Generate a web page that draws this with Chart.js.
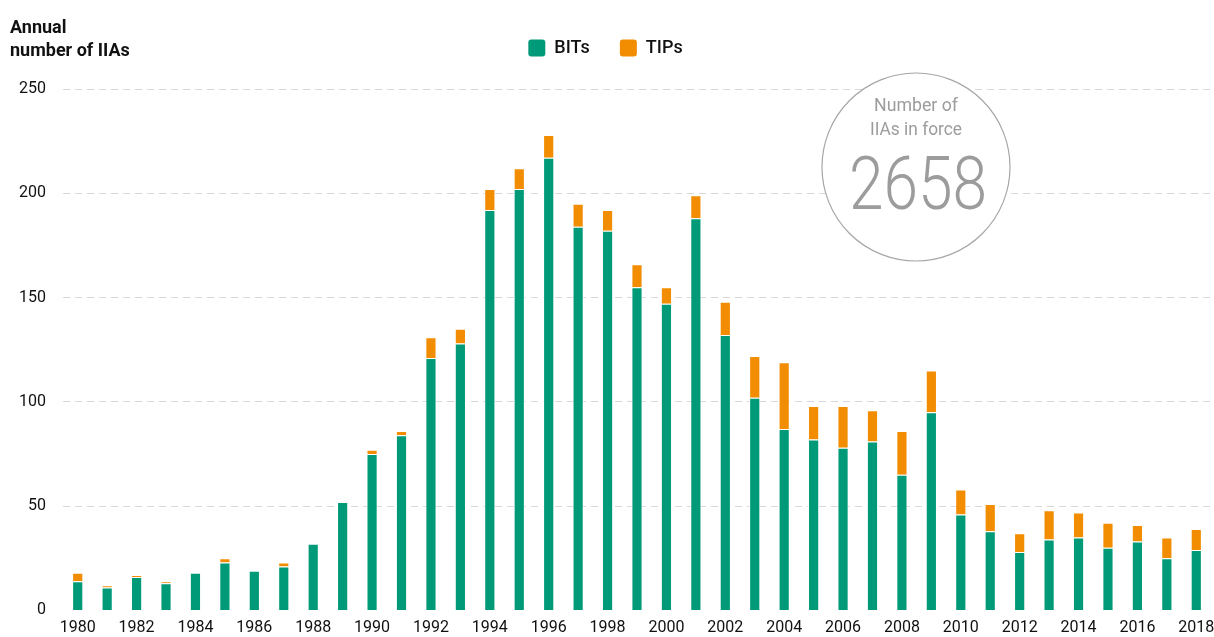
<!DOCTYPE html>
<html>
<head>
<meta charset="utf-8">
<script src="https://cdn.jsdelivr.net/npm/chart.js@4.4.1/dist/chart.umd.min.js"></script>
<style>
  html, body { margin: 0; padding: 0; background: #fff; }
  #wrap { position: relative; width: 1214px; height: 637px; }
</style>
</head>
<body>
<div id="wrap"><canvas id="iiaChart" width="1214" height="637"></canvas></div>
<script>
const years = ['1980','1981','1982','1983','1984','1985','1986','1987','1988','1989',
    '1990','1991','1992','1993','1994','1995','1996','1997','1998','1999',
    '2000','2001','2002','2003','2004','2005','2006','2007','2008','2009',
    '2010','2011','2012','2013','2014','2015','2016','2017','2018'];
const bits = [14, 11, 16, 13, 18, 23, 19, 21, 32, 52,
    75, 84, 121, 128, 192, 202, 217, 184, 182, 155,
    147, 188, 132, 102, 87, 82, 78, 81, 65, 95,
    46, 38, 28, 34, 35, 30, 33, 25, 29];
const tips = [4, 1, 1, 1, 0, 2, 0, 2, 0, 0,
    2, 2, 10, 7, 10, 10, 11, 11, 10, 11,
    8, 11, 16, 20, 32, 16, 20, 15, 21, 20,
    12, 13, 9, 14, 12, 12, 8, 10, 10];
const yTicks = [0, 50, 100, 150, 200, 250];
const inForce = '2658';

const FONT = "Roboto, 'Liberation Sans', sans-serif";
const GREEN = '#009a78';
const ORANGE = '#f28c00';

// squeeze text horizontally so it keeps the narrow look of the original
function narrowText(ctx, text, x, y, width) {
    const w = ctx.measureText(text).width;
    const s = Math.min(1, width / w);
    ctx.save();
    ctx.translate(x, y);
    ctx.scale(s, 1);
    ctx.fillText(text, 0, 0);
    ctx.restore();
}

// title at top left and the "in force" circle
const decorations = {
    id: 'decorations',
    beforeInit(chart) {
        const fit = chart.legend.fit;
        chart.legend.fit = function () {
            fit.bind(chart.legend)();
            this.height = 80;
        };
    },
    afterDraw(chart) {
        const ctx = chart.ctx;
        ctx.save();
        ctx.fillStyle = '#111';
        ctx.font = 'bold 18px ' + FONT;
        ctx.textAlign = 'left';
        ctx.textBaseline = 'alphabetic';
        narrowText(ctx, 'Annual', 10, 33, 57);
        narrowText(ctx, 'number of IIAs', 10, 56, 120);

        ctx.beginPath();
        ctx.arc(916, 167, 94, 0, Math.PI * 2);
        ctx.fillStyle = '#fff';
        ctx.fill();
        ctx.lineWidth = 1.2;
        ctx.strokeStyle = '#a6a6a6';
        ctx.stroke();

        ctx.fillStyle = '#9c9c9c';
        ctx.textAlign = 'center';
        ctx.font = '19px ' + FONT;
        narrowText(ctx, 'Number of', 916, 111, 84);
        narrowText(ctx, 'IIAs in force', 916, 135, 92);
        ctx.font = '300 74px ' + FONT;
        narrowText(ctx, inForce, 918, 209, 138);
        ctx.restore();
    }
};

const ctx = document.getElementById('iiaChart').getContext('2d');
new Chart(ctx, {
    type: 'bar',
    data: {
        labels: years,
        datasets: [{
            label: 'BITs',
            data: bits,
            backgroundColor: GREEN,
            borderColor: 'rgba(255,255,255,0.8)',
            borderWidth: 1,
            barPercentage: 0.38,
            categoryPercentage: 1
        }, {
            label: 'TIPs',
            data: tips,
            backgroundColor: ORANGE,
            borderColor: 'rgba(255,255,255,0.8)',
            borderWidth: 1,
            barPercentage: 0.38,
            categoryPercentage: 1
        }]
    },
    options: {
        responsive: false,
        animation: false,
        layout: { padding: { top: 9, right: 3, left: 0, bottom: 0 } },
        plugins: {
            legend: {
                position: 'top',
                labels: {
                    font: { family: FONT, size: 18, weight: '500' },
                    color: '#111',
                    boxWidth: 17,
                    boxHeight: 17,
                    padding: 30,
                    useBorderRadius: true,
                    borderRadius: 3,
                    generateLabels(chart) {
                        return chart.data.datasets.map((ds, i) => ({
                            text: ds.label,
                            fillStyle: ds.backgroundColor,
                            strokeStyle: ds.backgroundColor,
                            lineWidth: 0,
                            fontColor: '#111',
                            hidden: false,
                            borderRadius: 3,
                            datasetIndex: i
                        }));
                    }
                }
            },
            tooltip: { enabled: false }
        },
        scales: {
            x: {
                stacked: true,
                grid: { display: false, drawTicks: false },
                border: { display: false },
                afterFit(scale) {
                    scale.height = 23;
                    scale.paddingLeft = 0;
                    scale.paddingRight = 0;
                },
                ticks: {
                    autoSkip: false,
                    maxRotation: 0,
                    color: '#111',
                    padding: 8,
                    font: { family: FONT, size: 16 },
                    callback: function (value, index) {
                        return index % 2 === 0 ? this.getLabelForValue(value) : '';
                    }
                }
            },
            y: {
                stacked: true,
                min: 0,
                max: 250,
                afterFit(scale) { scale.width = 63; },
                afterBuildTicks(scale) { scale.ticks = yTicks.map(v => ({ value: v })); },
                grid: {
                    drawTicks: false,
                    color: c => c.tick && c.tick.value === 0 ? 'rgba(0,0,0,0)' : '#d9d9d9',
                    lineWidth: 1
                },
                border: { display: false, dash: [7, 5] },
                ticks: {
                    color: '#111',
                    padding: 17,
                    font: { family: FONT, size: 16 }
                }
            }
        }
    },
    plugins: [decorations]
});
</script>
</body>
</html>
